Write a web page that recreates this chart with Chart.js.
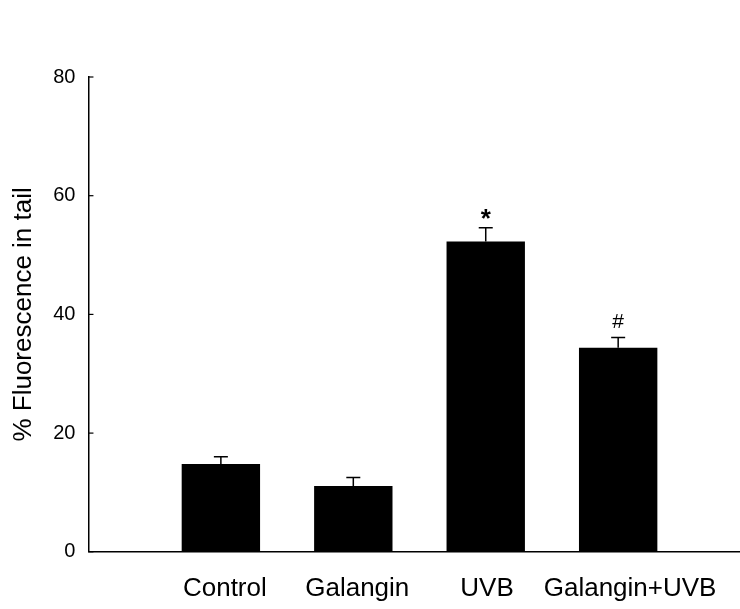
<!DOCTYPE html>
<html>
<head>
<meta charset="utf-8">
<script src="https://cdn.jsdelivr.net/npm/chart.js@4.4.1/dist/chart.umd.min.js"></script>
<style>
  html, body { margin: 0; padding: 0; background: #ffffff; }
  #wrap { width: 740px; height: 609px; position: relative; }
</style>
</head>
<body>
<div id="wrap"><canvas id="c" width="740" height="609"></canvas></div>
<script>
const categories = ['Control', 'Galangin', 'UVB', 'Galangin+UVB'];
const means = [14.8, 11.1, 52.3, 34.4];
const sems = [1.2, 1.4, 2.3, 1.7];
const marks = ['', '', '*', '#'];
const yTicks = [0, 20, 40, 60, 80];
const yTitle = '% Fluorescence in tail';
const labelNudge = [0.03, 0.03, 0.01, 0.09];

const FONT = "'Liberation Sans', Arial, sans-serif";

const extrasPlugin = {
  id: 'extras',
  afterDatasetsDraw(chart) {
    const ctx = chart.ctx;
    const xs = chart.scales.x, ys = chart.scales.y;
    const meta = chart.getDatasetMeta(0);
    ctx.save();
    ctx.strokeStyle = '#000';
    ctx.lineWidth = 1.5;
    meta.data.forEach((bar, i) => {
      const cx = xs.getPixelForValue(i);
      const yTop = ys.getPixelForValue(means[i]);
      const yErr = ys.getPixelForValue(means[i] + sems[i]);
      ctx.beginPath();
      ctx.moveTo(cx, yTop);
      ctx.lineTo(cx, yErr);
      ctx.moveTo(cx - 7, yErr);
      ctx.lineTo(cx + 7, yErr);
      ctx.stroke();
      if (marks[i] === '*') {
        ctx.font = 'bold 26px ' + FONT;
        ctx.fillStyle = '#000';
        ctx.textAlign = 'center';
        ctx.textBaseline = 'alphabetic';
        ctx.fillText(marks[i], cx, yErr - 1);
      } else if (marks[i] === '#') {
        ctx.font = '21px ' + FONT;
        ctx.fillStyle = '#000';
        ctx.textAlign = 'center';
        ctx.textBaseline = 'alphabetic';
        ctx.fillText(marks[i], cx, yErr - 10);
      }
    });
    // inward y tick marks
    ctx.lineWidth = 1.2;
    ys.ticks.forEach(t => {
      const py = ys.getPixelForValue(t.value);
      ctx.beginPath();
      ctx.moveTo(ys.right, py);
      ctx.lineTo(ys.right + 5, py);
      ctx.stroke();
    });
    ctx.restore();
  }
};

new Chart(document.getElementById('c'), {
  type: 'bar',
  data: {
    datasets: [{
      data: categories.map((c, i) => ({ x: i, y: means[i] })),
      backgroundColor: '#000000',
      borderWidth: 0,
      barPercentage: 0.604,
      categoryPercentage: 1.0
    }]
  },
  options: {
    responsive: false,
    animation: false,
    layout: { padding: { left: 0, right: 0, top: 77, bottom: -16 } },
    plugins: { legend: { display: false }, tooltip: { enabled: false } },
    scales: {
      x: {
        type: 'linear',
        min: -1,
        max: 3.92,
        offset: false,
        grid: { display: false, drawTicks: false },
        border: { display: true, color: '#000', width: 1.5 },
        afterBuildTicks(scale) { scale.ticks = categories.map((c, i) => ({ value: i + labelNudge[i], label: c })); },
        ticks: {
          autoSkip: false,
          maxRotation: 0,
          padding: 21,
          color: '#000',
          font: { family: FONT, size: 26 },
          callback: function (v, idx) { return categories[idx]; }
        }
      },
      y: {
        min: 0,
        max: 80,
        grid: { display: false, drawTicks: false },
        border: { display: true, color: '#000', width: 1.5 },
        afterBuildTicks(scale) { scale.ticks = yTicks.map(v => ({ value: v })); },
        ticks: {
          padding: 13,
          color: '#000',
          font: { family: FONT, size: 20 }
        },
        title: {
          display: true,
          text: yTitle,
          color: '#000',
          font: { family: FONT, size: 26 },
          padding: { top: 8, bottom: 1 }
        }
      }
    }
  },
  plugins: [extrasPlugin]
});
</script>
</body>
</html>
